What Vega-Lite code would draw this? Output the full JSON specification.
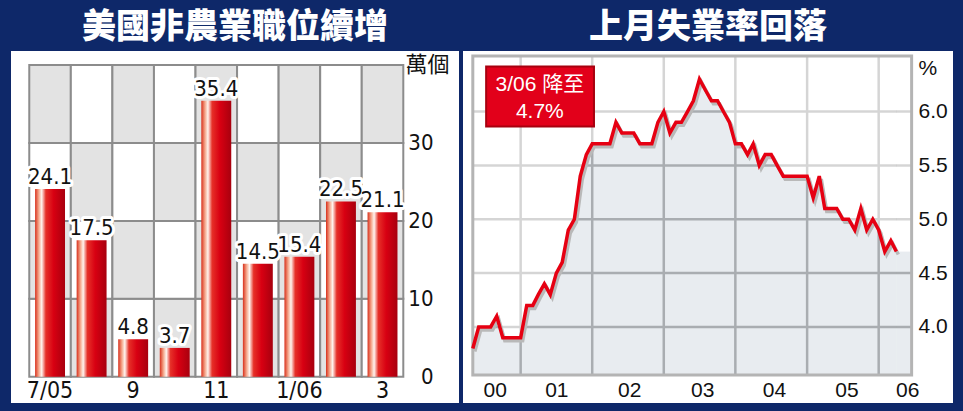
{
  "$schema": "https://vega.github.io/schema/vega-lite/v6.json",
  "background": "#0e2869",
  "padding": {"left": 11, "right": 10, "top": 11, "bottom": 8},
  "spacing": 4,
  "config": {
    "view": {"stroke": null, "fill": "white"},
    "title": {"color": "white", "fontSize": 34, "font": "Noto Sans CJK TC", "fontWeight": 900, "offset": 6, "anchor": "middle", "baseline": "top"}
  },
  "datasets": {
    "bars": [
      {"m": "7/05", "v": 24.1}, {"m": "8", "v": 17.5}, {"m": "9", "v": 4.8},
      {"m": "10", "v": 3.7}, {"m": "11", "v": 35.4}, {"m": "12", "v": 14.5},
      {"m": "1/06", "v": 15.4}, {"m": "2", "v": 22.5}, {"m": "3", "v": 21.1}
    ],
    "cells": [
      {"m": "7/05", "lo": 0, "hi": 10, "g": 0}, {"m": "7/05", "lo": 10, "hi": 20, "g": 1}, {"m": "7/05", "lo": 20, "hi": 30, "g": 0}, {"m": "7/05", "lo": 30, "hi": 40, "g": 1},
      {"m": "8", "lo": 0, "hi": 10, "g": 1}, {"m": "8", "lo": 10, "hi": 20, "g": 0}, {"m": "8", "lo": 20, "hi": 30, "g": 1}, {"m": "8", "lo": 30, "hi": 40, "g": 0},
      {"m": "9", "lo": 0, "hi": 10, "g": 0}, {"m": "9", "lo": 10, "hi": 20, "g": 1}, {"m": "9", "lo": 20, "hi": 30, "g": 0}, {"m": "9", "lo": 30, "hi": 40, "g": 1},
      {"m": "10", "lo": 0, "hi": 10, "g": 1}, {"m": "10", "lo": 10, "hi": 20, "g": 0}, {"m": "10", "lo": 20, "hi": 30, "g": 1}, {"m": "10", "lo": 30, "hi": 40, "g": 0},
      {"m": "11", "lo": 0, "hi": 10, "g": 0}, {"m": "11", "lo": 10, "hi": 20, "g": 1}, {"m": "11", "lo": 20, "hi": 30, "g": 0}, {"m": "11", "lo": 30, "hi": 40, "g": 1},
      {"m": "12", "lo": 0, "hi": 10, "g": 1}, {"m": "12", "lo": 10, "hi": 20, "g": 0}, {"m": "12", "lo": 20, "hi": 30, "g": 1}, {"m": "12", "lo": 30, "hi": 40, "g": 0},
      {"m": "1/06", "lo": 0, "hi": 10, "g": 0}, {"m": "1/06", "lo": 10, "hi": 20, "g": 1}, {"m": "1/06", "lo": 20, "hi": 30, "g": 0}, {"m": "1/06", "lo": 30, "hi": 40, "g": 1},
      {"m": "2", "lo": 0, "hi": 10, "g": 1}, {"m": "2", "lo": 10, "hi": 20, "g": 0}, {"m": "2", "lo": 20, "hi": 30, "g": 1}, {"m": "2", "lo": 30, "hi": 40, "g": 0},
      {"m": "3", "lo": 0, "hi": 10, "g": 0}, {"m": "3", "lo": 10, "hi": 20, "g": 1}, {"m": "3", "lo": 20, "hi": 30, "g": 0}, {"m": "3", "lo": 30, "hi": 40, "g": 1}
    ],
    "ur": [
      {"d": "2000-04-01", "v": 3.8}, {"d": "2000-05-01", "v": 4.0}, {"d": "2000-06-01", "v": 4.0}, {"d": "2000-07-01", "v": 4.0},
      {"d": "2000-08-01", "v": 4.1}, {"d": "2000-09-01", "v": 3.9}, {"d": "2000-10-01", "v": 3.9}, {"d": "2000-11-01", "v": 3.9},
      {"d": "2000-12-01", "v": 3.9}, {"d": "2001-01-01", "v": 4.2}, {"d": "2001-02-01", "v": 4.2}, {"d": "2001-03-01", "v": 4.3},
      {"d": "2001-04-01", "v": 4.4}, {"d": "2001-05-01", "v": 4.3}, {"d": "2001-06-01", "v": 4.5}, {"d": "2001-07-01", "v": 4.6},
      {"d": "2001-08-01", "v": 4.9}, {"d": "2001-09-01", "v": 5.0}, {"d": "2001-10-01", "v": 5.4}, {"d": "2001-11-01", "v": 5.6},
      {"d": "2001-12-01", "v": 5.7}, {"d": "2002-01-01", "v": 5.7}, {"d": "2002-02-01", "v": 5.7}, {"d": "2002-03-01", "v": 5.7},
      {"d": "2002-04-01", "v": 5.9}, {"d": "2002-05-01", "v": 5.8}, {"d": "2002-06-01", "v": 5.8}, {"d": "2002-07-01", "v": 5.8},
      {"d": "2002-08-01", "v": 5.7}, {"d": "2002-09-01", "v": 5.7}, {"d": "2002-10-01", "v": 5.7}, {"d": "2002-11-01", "v": 5.9},
      {"d": "2002-12-01", "v": 6.0}, {"d": "2003-01-01", "v": 5.8}, {"d": "2003-02-01", "v": 5.9}, {"d": "2003-03-01", "v": 5.9},
      {"d": "2003-04-01", "v": 6.0}, {"d": "2003-05-01", "v": 6.1}, {"d": "2003-06-01", "v": 6.3}, {"d": "2003-07-01", "v": 6.2},
      {"d": "2003-08-01", "v": 6.1}, {"d": "2003-09-01", "v": 6.1}, {"d": "2003-10-01", "v": 6.0}, {"d": "2003-11-01", "v": 5.9},
      {"d": "2003-12-01", "v": 5.7}, {"d": "2004-01-01", "v": 5.7}, {"d": "2004-02-01", "v": 5.6}, {"d": "2004-03-01", "v": 5.7},
      {"d": "2004-04-01", "v": 5.5}, {"d": "2004-05-01", "v": 5.6}, {"d": "2004-06-01", "v": 5.6}, {"d": "2004-07-01", "v": 5.5},
      {"d": "2004-08-01", "v": 5.4}, {"d": "2004-09-01", "v": 5.4}, {"d": "2004-10-01", "v": 5.4}, {"d": "2004-11-01", "v": 5.4},
      {"d": "2004-12-01", "v": 5.4}, {"d": "2005-01-01", "v": 5.2}, {"d": "2005-02-01", "v": 5.4}, {"d": "2005-03-01", "v": 5.1},
      {"d": "2005-04-01", "v": 5.1}, {"d": "2005-05-01", "v": 5.1}, {"d": "2005-06-01", "v": 5.0}, {"d": "2005-07-01", "v": 5.0},
      {"d": "2005-08-01", "v": 4.9}, {"d": "2005-09-01", "v": 5.1}, {"d": "2005-10-01", "v": 4.9}, {"d": "2005-11-01", "v": 5.0},
      {"d": "2005-12-01", "v": 4.9}, {"d": "2006-01-01", "v": 4.7}, {"d": "2006-02-01", "v": 4.8}, {"d": "2006-03-01", "v": 4.7}
    ],
    "vgrid": [{"d": "2000-12-01"}, {"d": "2001-12-01"}, {"d": "2002-12-01"}, {"d": "2003-12-01"}, {"d": "2004-12-01"}, {"d": "2005-12-01"}],
    "hgrid": [{"v": 4.0}, {"v": 4.5}, {"v": 5.0}, {"v": 5.5}, {"v": 6.0}]
  },
  "hconcat": [
    {
      "title": "美國非農業職位續增",
      "width": 448,
      "height": 352,
      "layer": [
        {
          "data": {"name": "cells"},
          "mark": {"type": "rect", "stroke": "#8c8c8c", "strokeWidth": 2},
          "encoding": {
            "x": {"field": "m", "type": "nominal", "scale": {"domain": ["7/05", "8", "9", "10", "11", "12", "1/06", "2", "3"], "paddingInner": 0, "paddingOuter": 0.89, "align": 0.247},
              "axis": {"orient": "bottom", "offset": -24, "labelPadding": 0, "labelBaseline": "top", "labelAngle": 0, "domain": false, "ticks": false, "grid": false, "labelOverlap": false,
                "labelFont": "Liberation Sans Narrow, DejaVu Sans Condensed, sans-serif", "labelFontSize": 23, "labelColor": "#111111", "title": null,
                "labelExpr": "indexof(['7/05','9','11','1/06','3'], datum.value) >= 0 ? datum.value : ''"}},
            "y": {"field": "lo", "type": "quantitative", "scale": {"domain": [-3.37, 41.8], "nice": false, "zero": false},
              "axis": {"orient": "right", "values": [0, 10, 20, 30], "offset": -30, "labelPadding": 4, "labelAlign": "right", "domain": false, "ticks": false, "grid": false,
                "labelFont": "Liberation Sans Narrow, DejaVu Sans Condensed, sans-serif", "labelFontSize": 22, "labelColor": "#111111",
                "title": "萬個", "titleAngle": 0, "titleX": -24, "titleY": 3, "titleAlign": "left", "titleBaseline": "top",
                "titleFont": "Noto Sans CJK TC", "titleFontSize": 22, "titleFontWeight": "normal", "titleColor": "#111111"}},
            "y2": {"field": "hi"},
            "color": {"field": "g", "type": "nominal", "scale": {"domain": [0, 1], "range": ["#ffffff", "#e3e3e3"]}, "legend": null}
          }
        },
        {
          "data": {"name": "bars"},
          "mark": {
            "type": "bar",
            "width": {"band": 0.72},
            "color": {
              "gradient": "linear", "x1": 0, "x2": 1, "y1": 0, "y2": 0,
              "stops": [
                {"offset": 0, "color": "#d8301c"},
                {"offset": 0.12, "color": "#f4a488"},
                {"offset": 0.22, "color": "#fff4ee"},
                {"offset": 0.36, "color": "#e63028"},
                {"offset": 0.62, "color": "#d80012"},
                {"offset": 1, "color": "#a8000e"}
              ]
            }
          },
          "encoding": {
            "x": {"field": "m", "type": "nominal", "scale": {"domain": ["7/05", "8", "9", "10", "11", "12", "1/06", "2", "3"], "paddingInner": 0, "paddingOuter": 0.89, "align": 0.247}},
            "y": {"field": "v", "type": "quantitative", "scale": {"domain": [-3.37, 41.8], "nice": false, "zero": false}},
            "y2": {"datum": 0}
          }
        },
        {
          "data": {"name": "bars"},
          "mark": {"type": "text", "dy": -5, "baseline": "alphabetic", "font": "Liberation Sans Narrow, DejaVu Sans Condensed, sans-serif", "fontSize": 22, "stroke": "white", "strokeWidth": 6, "strokeJoin": "round", "fill": "white"},
          "encoding": {
            "x": {"field": "m", "type": "nominal", "scale": {"domain": ["7/05", "8", "9", "10", "11", "12", "1/06", "2", "3"], "paddingInner": 0, "paddingOuter": 0.89, "align": 0.247}},
            "y": {"field": "v", "type": "quantitative", "scale": {"domain": [-3.37, 41.8], "nice": false, "zero": false}},
            "text": {"field": "v", "type": "quantitative", "format": ".1f"}
          }
        },
        {
          "data": {"name": "bars"},
          "mark": {"type": "text", "dy": -5, "baseline": "alphabetic", "font": "Liberation Sans Narrow, DejaVu Sans Condensed, sans-serif", "fontSize": 22, "fill": "#111111"},
          "encoding": {
            "x": {"field": "m", "type": "nominal", "scale": {"domain": ["7/05", "8", "9", "10", "11", "12", "1/06", "2", "3"], "paddingInner": 0, "paddingOuter": 0.89, "align": 0.247}},
            "y": {"field": "v", "type": "quantitative", "scale": {"domain": [-3.37, 41.8], "nice": false, "zero": false}},
            "text": {"field": "v", "type": "quantitative", "format": ".1f"}
          }
        }
      ]
    },
    {
      "title": "上月失業率回落",
      "width": 490,
      "height": 352,
      "layer": [
        {
          "data": {"name": "vgrid"},
          "mark": {"type": "rule", "color": "#ababab", "strokeWidth": 2.5},
          "encoding": {
            "x": {"field": "d", "type": "temporal", "scale": {"type": "utc", "domain": [{"year": 2000, "month": 2, "date": 11, "utc": true}, {"year": 2006, "month": 12, "date": 15, "utc": true}], "nice": false},
              "axis": {"orient": "bottom", "offset": -24, "labelPadding": 0, "labelBaseline": "top", "labelAngle": 0, "domain": false, "ticks": false, "grid": false, "labelOverlap": false,
                "values": [{"year": 2000, "month": 7, "date": 22, "utc": true}, {"year": 2001, "month": 6, "date": 1, "utc": true}, {"year": 2002, "month": 6, "date": 8, "utc": true}, {"year": 2003, "month": 6, "date": 15, "utc": true}, {"year": 2004, "month": 6, "date": 15, "utc": true}, {"year": 2005, "month": 6, "date": 20, "utc": true}, {"year": 2006, "month": 4, "date": 25, "utc": true}],
                "labelExpr": "utcFormat(datum.value, '%y')",
                "labelFont": "Liberation Sans, Arial, sans-serif", "labelFontSize": 21, "labelColor": "#111111", "title": null}},
            "y": {"datum": 3.553, "type": "quantitative", "scale": {"domain": [3.294, 6.562], "nice": false, "zero": false},
              "axis": {"orient": "right", "values": [4.0, 4.5, 5.0, 5.5, 6.0], "format": ".1f", "offset": -35, "labelPadding": 0, "labelAlign": "left", "domain": false, "ticks": false, "grid": false,
                "labelFont": "Liberation Sans, Arial, sans-serif", "labelFontSize": 21, "labelColor": "#111111",
                "title": "%", "titleAngle": 0, "titleX": 0, "titleY": 6, "titleAlign": "left", "titleBaseline": "top",
                "titleFont": "Liberation Sans, Arial, sans-serif", "titleFontSize": 21, "titleFontWeight": "normal", "titleColor": "#111111"}},
            "y2": {"datum": 6.516}
          }
        },
        {
          "data": {"name": "hgrid"},
          "mark": {"type": "rule", "color": "#ababab", "strokeWidth": 2.5},
          "encoding": {
            "x": {"datum": {"year": 2000, "month": 4, "date": 1, "utc": true}, "type": "temporal", "scale": {"type": "utc", "domain": [{"year": 2000, "month": 2, "date": 11, "utc": true}, {"year": 2006, "month": 12, "date": 15, "utc": true}], "nice": false}},
            "x2": {"datum": {"year": 2006, "month": 5, "date": 18, "utc": true}},
            "y": {"field": "v", "type": "quantitative", "scale": {"domain": [3.294, 6.562], "nice": false, "zero": false}}
          }
        },
        {
          "data": {"name": "ur"},
          "mark": {"type": "area", "color": "rgb(163,179,195)", "opacity": 0.25},
          "encoding": {
            "x": {"field": "d", "type": "temporal", "scale": {"type": "utc", "domain": [{"year": 2000, "month": 2, "date": 11, "utc": true}, {"year": 2006, "month": 12, "date": 15, "utc": true}], "nice": false}},
            "y": {"field": "v", "type": "quantitative", "scale": {"domain": [3.294, 6.562], "nice": false, "zero": false}},
            "y2": {"datum": 3.553}
          }
        },
        {
          "data": {"values": [{}]},
          "mark": {"type": "rect", "color": "rgb(163,179,195)", "opacity": 0.25},
          "encoding": {
            "x": {"datum": {"year": 2006, "month": 3, "date": 1, "utc": true}, "type": "temporal", "scale": {"type": "utc", "domain": [{"year": 2000, "month": 2, "date": 11, "utc": true}, {"year": 2006, "month": 12, "date": 15, "utc": true}], "nice": false}},
            "x2": {"datum": {"year": 2006, "month": 5, "date": 18, "utc": true}},
            "y": {"datum": 3.553, "type": "quantitative", "scale": {"domain": [3.294, 6.562], "nice": false, "zero": false}},
            "y2": {"datum": 4.7}
          }
        },
        {
          "data": {"name": "ur"},
          "mark": {"type": "area", "color": "white", "opacity": 0.5},
          "encoding": {
            "x": {"field": "d", "type": "temporal", "scale": {"type": "utc", "domain": [{"year": 2000, "month": 2, "date": 11, "utc": true}, {"year": 2006, "month": 12, "date": 15, "utc": true}], "nice": false}},
            "y": {"field": "v", "type": "quantitative", "scale": {"domain": [3.294, 6.562], "nice": false, "zero": false}},
            "y2": {"datum": 6.516}
          }
        },
        {
          "data": {"values": [{}]},
          "mark": {"type": "rect", "color": "white", "opacity": 0.5},
          "encoding": {
            "x": {"datum": {"year": 2006, "month": 3, "date": 1, "utc": true}, "type": "temporal", "scale": {"type": "utc", "domain": [{"year": 2000, "month": 2, "date": 11, "utc": true}, {"year": 2006, "month": 12, "date": 15, "utc": true}], "nice": false}},
            "x2": {"datum": {"year": 2006, "month": 5, "date": 18, "utc": true}},
            "y": {"datum": 4.7, "type": "quantitative", "scale": {"domain": [3.294, 6.562], "nice": false, "zero": false}},
            "y2": {"datum": 6.516}
          }
        },
        {
          "data": {"values": [{}]},
          "mark": {"type": "rect", "fill": null, "fillOpacity": 0, "stroke": "#b4b4b4", "strokeWidth": 3},
          "encoding": {
            "x": {"datum": {"year": 2000, "month": 4, "date": 1, "utc": true}, "type": "temporal", "scale": {"type": "utc", "domain": [{"year": 2000, "month": 2, "date": 11, "utc": true}, {"year": 2006, "month": 12, "date": 15, "utc": true}], "nice": false}},
            "x2": {"datum": {"year": 2006, "month": 5, "date": 18, "utc": true}},
            "y": {"datum": 3.553, "type": "quantitative", "scale": {"domain": [3.294, 6.562], "nice": false, "zero": false}},
            "y2": {"datum": 6.516}
          }
        },
        {
          "data": {"name": "ur"},
          "mark": {"type": "line", "color": "#b9b9b9", "strokeWidth": 3.5, "xOffset": 2, "yOffset": 3, "strokeJoin": "miter"},
          "encoding": {
            "x": {"field": "d", "type": "temporal", "scale": {"type": "utc", "domain": [{"year": 2000, "month": 2, "date": 11, "utc": true}, {"year": 2006, "month": 12, "date": 15, "utc": true}], "nice": false}},
            "y": {"field": "v", "type": "quantitative", "scale": {"domain": [3.294, 6.562], "nice": false, "zero": false}}
          }
        },
        {
          "data": {"name": "ur"},
          "mark": {"type": "line", "color": "#e60012", "strokeWidth": 3.5, "strokeJoin": "miter"},
          "encoding": {
            "x": {"field": "d", "type": "temporal", "scale": {"type": "utc", "domain": [{"year": 2000, "month": 2, "date": 11, "utc": true}, {"year": 2006, "month": 12, "date": 15, "utc": true}], "nice": false}},
            "y": {"field": "v", "type": "quantitative", "scale": {"domain": [3.294, 6.562], "nice": false, "zero": false}}
          }
        },
        {
          "data": {"values": [{}]},
          "mark": {"type": "rect", "fill": "#e2001a", "stroke": "#a8000f", "strokeWidth": 2},
          "encoding": {
            "x": {"datum": {"year": 2000, "month": 6, "date": 8, "utc": true}, "type": "temporal", "scale": {"type": "utc", "domain": [{"year": 2000, "month": 2, "date": 11, "utc": true}, {"year": 2006, "month": 12, "date": 15, "utc": true}], "nice": false}},
            "x2": {"datum": {"year": 2001, "month": 12, "date": 10, "utc": true}},
            "y": {"datum": 6.417, "type": "quantitative", "scale": {"domain": [3.294, 6.562], "nice": false, "zero": false}},
            "y2": {"datum": 5.861}
          }
        },
        {
          "data": {"values": [{}]},
          "mark": {"type": "text", "text": "3/06 降至", "color": "white", "font": "Liberation Sans, Noto Sans CJK TC, sans-serif", "fontSize": 21, "baseline": "middle", "align": "center"},
          "encoding": {
            "x": {"datum": {"year": 2001, "month": 3, "date": 9, "utc": true}, "type": "temporal", "scale": {"type": "utc", "domain": [{"year": 2000, "month": 2, "date": 11, "utc": true}, {"year": 2006, "month": 12, "date": 15, "utc": true}], "nice": false}},
            "y": {"datum": 6.246, "type": "quantitative", "scale": {"domain": [3.294, 6.562], "nice": false, "zero": false}}
          }
        },
        {
          "data": {"values": [{}]},
          "mark": {"type": "text", "text": "4.7%", "color": "white", "font": "Liberation Sans, Noto Sans CJK TC, sans-serif", "fontSize": 21, "baseline": "middle", "align": "center"},
          "encoding": {
            "x": {"datum": {"year": 2001, "month": 3, "date": 9, "utc": true}, "type": "temporal", "scale": {"type": "utc", "domain": [{"year": 2000, "month": 2, "date": 11, "utc": true}, {"year": 2006, "month": 12, "date": 15, "utc": true}], "nice": false}},
            "y": {"datum": 6.0, "type": "quantitative", "scale": {"domain": [3.294, 6.562], "nice": false, "zero": false}}
          }
        }
      ]
    }
  ]
}
